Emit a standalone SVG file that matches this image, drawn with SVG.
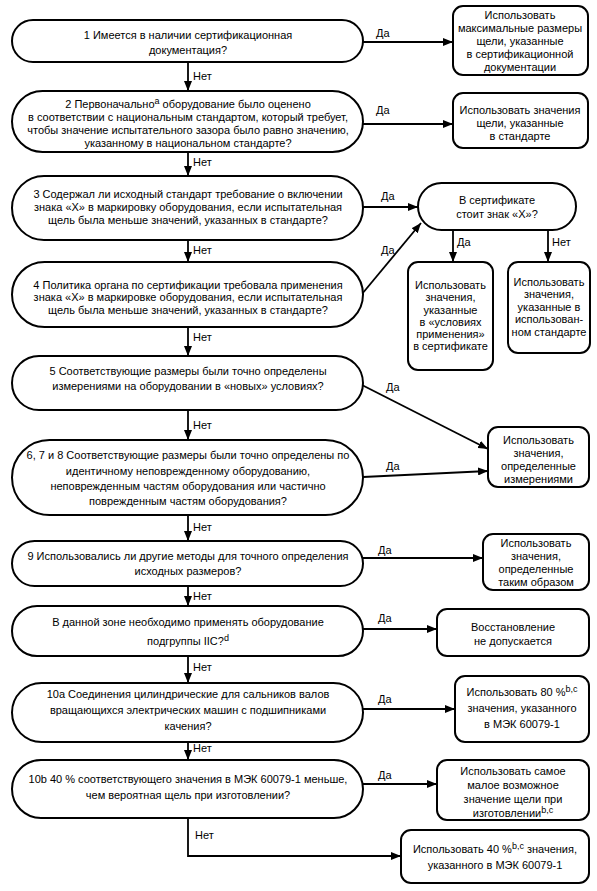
<svg xmlns="http://www.w3.org/2000/svg" width="597" height="891" viewBox="0 0 597 891">
<defs>
<marker id="ah" viewBox="0 0 10 8" refX="10" refY="4" markerWidth="10" markerHeight="8" markerUnits="userSpaceOnUse" orient="auto">
<path d="M0,0 L10,4 L0,8 Z" fill="#000"/>
</marker>
<style>
.n{fill:#fff;stroke:#000;stroke-width:2}
text{font-family:"Liberation Sans",Arial,sans-serif;font-size:11px;fill:#000}
.c{text-anchor:middle}
.e{stroke:#000;stroke-width:1.8;fill:none;marker-end:url(#ah)}
.s{font-size:9px}
</style>
</defs>
<rect width="597" height="891" fill="#fff"/>
<g id="connectors">
<line class="e" x1="188" y1="62" x2="188" y2="91"/>
<line class="e" x1="188" y1="152" x2="188" y2="176"/>
<line class="e" x1="188" y1="240" x2="188" y2="262"/>
<line class="e" x1="188" y1="327" x2="188" y2="356"/>
<line class="e" x1="188" y1="410" x2="188" y2="440"/>
<line class="e" x1="188" y1="515" x2="188" y2="541"/>
<line class="e" x1="188" y1="586" x2="188" y2="606"/>
<line class="e" x1="188" y1="656" x2="188" y2="683"/>
<line class="e" x1="188" y1="742" x2="188" y2="760"/>
<polyline class="e" points="188,818 188,856 401,856"/>
<line class="e" x1="363" y1="42" x2="453" y2="42"/>
<line class="e" x1="363" y1="124" x2="453" y2="124"/>
<line class="e" x1="363" y1="207" x2="418" y2="207"/>
<line class="e" x1="362" y1="294" x2="421" y2="223"/>
<line class="e" x1="453" y1="230" x2="453" y2="262"/>
<line class="e" x1="548" y1="230" x2="548" y2="262"/>
<line class="e" x1="360" y1="384" x2="488" y2="449"/>
<line class="e" x1="363" y1="477" x2="488" y2="471"/>
<line class="e" x1="363" y1="558" x2="483" y2="558"/>
<line class="e" x1="363" y1="629" x2="437" y2="629"/>
<line class="e" x1="363" y1="709" x2="455" y2="709"/>
<line class="e" x1="362" y1="784" x2="437" y2="784"/>
<text x="193" y="80">Нет</text>
<text x="193" y="166">Нет</text>
<text x="193" y="254">Нет</text>
<text x="193" y="341">Нет</text>
<text x="193" y="429">Нет</text>
<text x="193" y="531">Нет</text>
<text x="193" y="600">Нет</text>
<text x="193" y="671">Нет</text>
<text x="193" y="752">Нет</text>
<text x="195" y="839">Нет</text>
<text x="376" y="37">Да</text>
<text x="376" y="114">Да</text>
<text x="381" y="200">Да</text>
<text x="381" y="254">Да</text>
<text x="457" y="246">Да</text>
<text x="552" y="246">Нет</text>
<text x="386" y="391">Да</text>
<text x="386" y="470">Да</text>
<text x="378" y="554">Да</text>
<text x="378" y="622">Да</text>
<text x="378" y="703">Да</text>
<text x="378" y="779">Да</text>
</g>
<g id="q1"><rect class="n" x="12" y="20" width="351" height="42" rx="21"/>
<text class="c" x="188" y="39">1 Имеется в наличии сертификационная</text>
<text class="c" x="188" y="54">документация?</text></g>
<g id="r1"><rect class="n" x="453" y="6" width="135" height="69" rx="10"/>
<text class="c" x="520" y="19">Использовать</text>
<text class="c" x="520" y="32">максимальные размеры</text>
<text class="c" x="520" y="45">щели, указанные</text>
<text class="c" x="520" y="58">в сертификационной</text>
<text class="c" x="520" y="71">документации</text></g>
<g id="q2"><rect class="n" x="12" y="91" width="351" height="61" rx="30.5"/>
<text class="c" x="188" y="108">2  Первоначально<tspan class="s" dy="-4">a</tspan><tspan dy="4"> оборудование было оценено</tspan></text>
<text class="c" x="188" y="121">в соответствии с национальным стандартом, который требует,</text>
<text class="c" x="188" y="134">чтобы значение испытательного зазора было равно значению,</text>
<text class="c" x="188" y="147">указанному в национальном стандарте?</text></g>
<g id="r2"><rect class="n" x="453" y="93" width="135" height="55" rx="10"/>
<text class="c" x="520" y="114">Использовать значения</text>
<text class="c" x="520" y="127">щели, указанные</text>
<text class="c" x="520" y="140">в стандарте</text></g>
<g id="q3"><rect class="n" x="12" y="176" width="351" height="64" rx="32"/>
<text class="c" x="188" y="198">3 Содержал ли исходный стандарт требование о включении</text>
<text class="c" x="188" y="211">знака «X» в маркировку оборудования, если испытательная</text>
<text class="c" x="188" y="224">щель была меньше значений, указанных в стандарте?</text></g>
<g id="qx"><rect class="n" x="418" y="183" width="158" height="47" rx="23.5"/>
<text class="c" x="497" y="204">В сертификате</text>
<text class="c" x="497" y="218">стоит знак «X»?</text></g>
<g id="rx1"><rect class="n" x="408" y="262" width="85" height="108" rx="10"/>
<text class="c" x="450.5" y="289">Использовать</text>
<text class="c" x="450.5" y="301">значения,</text>
<text class="c" x="450.5" y="314">указанные</text>
<text class="c" x="450.5" y="326">в «условиях</text>
<text class="c" x="450.5" y="338">применения»</text>
<text class="c" x="450.5" y="350">в сертификате</text></g>
<g id="rx2"><rect class="n" x="508" y="262" width="82" height="91" rx="10"/>
<text class="c" x="549" y="286">Использовать</text>
<text class="c" x="549" y="298">значения,</text>
<text class="c" x="549" y="311">указанные в</text>
<text class="c" x="549" y="323">использован-</text>
<text class="c" x="549" y="336">ном стандарте</text></g>
<g id="q4"><rect class="n" x="12" y="262" width="351" height="65" rx="32.5"/>
<text class="c" x="188" y="289">4 Политика органа по сертификации требовала применения</text>
<text class="c" x="188" y="301">знака «X» в маркировке оборудования, если испытательная</text>
<text class="c" x="188" y="314">щель была меньше значений, указанных в стандарте?</text></g>
<g id="q5"><rect class="n" x="12" y="356" width="351" height="54" rx="27"/>
<text class="c" x="188" y="375">5 Соответствующие размеры были точно определены</text>
<text class="c" x="188" y="390">измерениями на оборудовании в «новых» условиях?</text></g>
<g id="q678"><rect class="n" x="12" y="440" width="351" height="75" rx="37.5"/>
<text class="c" x="188" y="459">6, 7 и 8 Соответствующие размеры были точно определены по</text>
<text class="c" x="188" y="475">идентичному неповрежденному оборудованию,</text>
<text class="c" x="188" y="490">неповрежденным частям оборудования или частично</text>
<text class="c" x="188" y="505">поврежденным частям оборудования?</text></g>
<g id="r5"><rect class="n" x="488" y="427" width="101" height="60" rx="10"/>
<text class="c" x="538.5" y="444">Использовать</text>
<text class="c" x="538.5" y="457">значения,</text>
<text class="c" x="538.5" y="470">определенные</text>
<text class="c" x="538.5" y="483">измерениями</text></g>
<g id="q9"><rect class="n" x="12" y="541" width="351" height="45" rx="22.5"/>
<text class="c" x="188" y="560">9 Использовались ли другие методы для точного определения</text>
<text class="c" x="188" y="575">исходных размеров?</text></g>
<g id="r9"><rect class="n" x="483" y="534" width="106" height="56" rx="10"/>
<text class="c" x="536" y="547">Использовать</text>
<text class="c" x="536" y="560">значения,</text>
<text class="c" x="536" y="573">определенные</text>
<text class="c" x="536" y="586">таким образом</text></g>
<g id="qiic"><rect class="n" x="12" y="606" width="351" height="50" rx="25"/>
<text class="c" x="188" y="626">В данной зоне необходимо применять оборудование</text>
<text class="c" x="188" y="645">подгруппы IIC?<tspan class="s" dy="-4">d</tspan></text></g>
<g id="riic"><rect class="n" x="437" y="609" width="152" height="47" rx="10"/>
<text class="c" x="513" y="631">Восстановление</text>
<text class="c" x="513" y="645">не допускается</text></g>
<g id="q10a"><rect class="n" x="12" y="683" width="351" height="59" rx="29.5"/>
<text class="c" x="188" y="698">10a Соединения цилиндрические для сальников валов</text>
<text class="c" x="188" y="714">вращающихся электрических машин с подшипниками</text>
<text class="c" x="188" y="730">качения?</text></g>
<g id="r10a"><rect class="n" x="455" y="676" width="134" height="66" rx="10"/>
<text class="c" x="522" y="696">Использовать 80 %<tspan class="s" dy="-4">b,c</tspan></text>
<text class="c" x="522" y="712">значения, указанного</text>
<text class="c" x="522" y="728">в МЭК 60079-1</text></g>
<g id="q10b"><rect class="n" x="12" y="760" width="351" height="58" rx="29"/>
<text class="c" x="188" y="783">10b 40 % соответствующего значения в МЭК 60079-1 меньше,</text>
<text class="c" x="188" y="799">чем вероятная щель при изготовлении?</text></g>
<g id="r10b"><rect class="n" x="437" y="760" width="152" height="60" rx="10"/>
<text class="c" x="513" y="775">Использовать самое</text>
<text class="c" x="513" y="789">малое возможное</text>
<text class="c" x="513" y="803">значение щели при</text>
<text class="c" x="513" y="817">изготовлении<tspan class="s" dy="-4">b,c</tspan></text></g>
<g id="r10c"><rect class="n" x="401" y="830" width="188" height="53" rx="10"/>
<text class="c" x="495" y="853">Использовать 40 %<tspan class="s" dy="-4">b,c</tspan><tspan dy="4"> значения,</tspan></text>
<text class="c" x="495" y="869">указанного в МЭК 60079-1</text></g>
</svg>
